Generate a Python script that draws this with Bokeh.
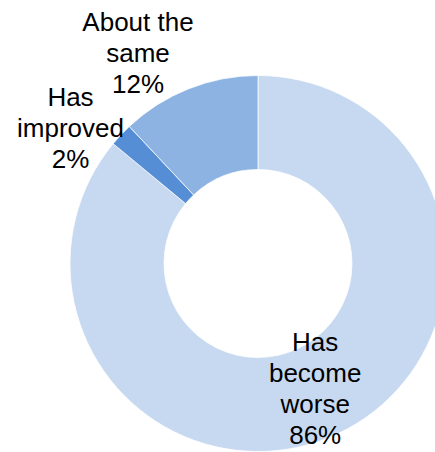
import math
from bokeh.plotting import figure
from bokeh.models import Range1d, ColumnDataSource
from bokeh.core.properties import value
from bokeh.embed import file_html
from bokeh.resources import INLINE

# Data (clockwise from 12 o'clock)
categories = ["Has become worse", "Has improved", "About the same"]
shares = [86, 2, 12]
colors = ["#C6D9F1", "#558ED5", "#8DB3E2"]
label_texts = ["Has\nbecome\nworse", "Has\nimproved", "About the\nsame"]

W, H = 435, 452
CX, CY = 257.5, 189.0
R_IN, R_OUT = 94, 188

total = float(sum(shares))
starts, ends = [], []
cum = 0.0
for s in shares:
    a0 = math.pi / 2 - 2 * math.pi * cum / total
    cum += s
    a1 = math.pi / 2 - 2 * math.pi * cum / total
    starts.append(a0)
    ends.append(a1)

src = ColumnDataSource(dict(cat=categories, share=shares, color=colors,
                            start=starts, end=ends,
                            x=[CX] * len(shares), y=[CY] * len(shares)))

p = figure(width=W, height=H, output_backend="svg", toolbar_location=None,
           x_range=Range1d(0, W), y_range=Range1d(0, H), min_border=0)
p.outline_line_color = None
p.axis.visible = False
p.grid.visible = False
p.background_fill_color = "white"
p.border_fill_color = "white"

p.annular_wedge(x="x", y="y", inner_radius=R_IN, outer_radius=R_OUT,
                start_angle="start", end_angle="end", direction="clock",
                fill_color="color", line_color="white", line_width=0.75,
                source=src)

# label anchors (layout, in pixels)
label_pos = [(314.7, 64.0), (70.0, 324.6), (137.5, 399.6)]
texts = [f"{t}\n{s}%" for t, s in zip(label_texts, shares)]
p.text(x=[lp[0] for lp in label_pos], y=[lp[1] for lp in label_pos], text=texts,
       text_font=value("Liberation Sans"), text_font_size="26px",
       text_color="black", text_align="center", text_baseline="middle",
       text_line_height=1.03)

open("out.html", "w").write(file_html(p, INLINE))
